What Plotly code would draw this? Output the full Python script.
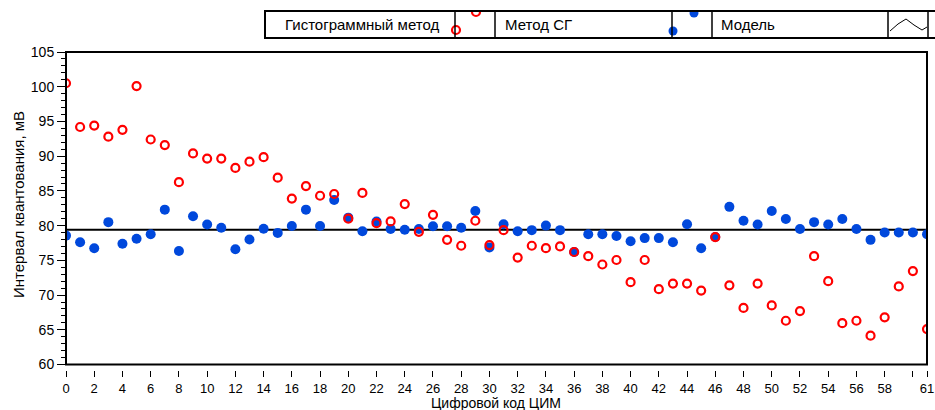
import plotly.graph_objects as go

# ---- data ----
codes = list(range(62))
hist_method = [100.5, 94.2, 94.4, 92.8, 93.8, 100.1, 92.4, 91.6, 86.25, 90.4,
               89.65, 89.65, 88.3, 89.2, 89.85, 86.9, 83.9, 85.7, 84.3, 84.55,
               81.0, 84.7, 80.35, 80.6, 83.1, 79.1, 81.55, 77.95, 77.1, 80.7,
               77.2, 79.35, 75.4, 77.1, 76.75, 77.0, 76.2, 75.6, 74.4, 75.05,
               71.85, 75.05, 70.85, 71.65, 71.65, 70.65, 78.35, 71.4, 68.15, 71.65,
               68.5, 66.3, 67.7, 75.6, 72.0, 65.95, 66.3, 64.15, 66.8, 71.25,
               73.45, 65.1]
sg_method = [78.56, 77.6, 76.75, 80.5, 77.4, 78.1, 78.75, 82.3, 76.35, 81.35,
             80.15, 79.7, 76.6, 78.0, 79.55, 78.95, 79.95, 82.3, 79.95, 83.7,
             81.15, 79.2, 80.6, 79.5, 79.4, 79.5, 79.9, 79.9, 79.7, 82.1,
             76.85, 80.2, 79.2, 79.35, 80.0, 79.35, 76.2, 78.75, 78.75, 78.5,
             77.75, 78.2, 78.2, 77.6, 80.2, 76.75, 78.35, 82.7, 80.7, 80.15,
             82.1, 80.95, 79.5, 80.5, 80.15, 80.95, 79.5, 77.95, 79.0, 79.0,
             79.0, 78.75]
model_x = [0, 61]
model_y = [79.4, 79.4]
x_tickvals = list(range(0, 61, 2)) + [61]
x_ticktext = [str(v) if v != 60 else "" for v in x_tickvals]
legend_names = ["Гистограммный метод", "Метод СГ", "Модель"]
x_title = "Цифровой код ЦИМ"
y_title = "Интервал квантования, мВ"

RED = "#FF0000"
BLUE = "#0048DC"
FONT = "Liberation Sans"

# ---- layout geometry (page pixels) ----
W, H = 935, 410
P_LEFT, P_RIGHT, P_TOP, P_BOT = 66, 927, 52, 370   # plot area in pixels
ML = P_LEFT
MR = W - P_RIGHT
MT = P_TOP
MB = H - P_BOT
PW = W - ML - MR
PH = H - MT - MB


def px(x):
    return (x - P_LEFT) / PW


def py(y):
    return (P_BOT - y) / PH


fig = go.Figure()
fig.add_trace(go.Scatter(x=model_x, y=model_y, mode="lines",
                         line=dict(color="black", width=2),
                         name=legend_names[2], showlegend=False))
fig.add_trace(go.Scatter(x=codes, y=sg_method, mode="markers",
                         marker=dict(symbol="circle", size=10, color=BLUE,
                                     line=dict(width=0)),
                         name=legend_names[1], showlegend=False))
fig.add_trace(go.Scatter(x=codes, y=hist_method, mode="markers",
                         marker=dict(symbol="circle-open", size=8, color=RED,
                                     line=dict(width=2.2, color=RED)),
                         name=legend_names[0], showlegend=False))

shapes = []
# plot frame
shapes.append(dict(type="rect", xref="x domain", yref="y domain",
                   x0=0, x1=1, y0=0, y1=1,
                   line=dict(color="black", width=2), layer="above"))

# legend box
lt, lb = 11, 38
cells = [265, 455, 495, 672, 712, 888, 928]
shapes.append(dict(type="rect", xref="paper", yref="paper",
                   x0=px(265), x1=px(945), y0=py(lb), y1=py(lt),
                   fillcolor="white", line=dict(color="black", width=2)))


def circ(cx, cy, r, fill, color, w):
    return dict(type="circle", xref="paper", yref="paper",
                xsizemode="pixel", ysizemode="pixel",
                xanchor=px(cx), yanchor=py(cy),
                x0=-r, x1=r, y0=-r, y1=r,
                fillcolor=fill, line=dict(color=color, width=w))


# legend icons (partly hidden by the cell borders, as in the original)
shapes.append(circ(476, 12, 4, "rgba(0,0,0,0)", RED, 2.2))
shapes.append(circ(456, 30, 4, "rgba(0,0,0,0)", RED, 2.2))
shapes.append(circ(694, 13, 4.5, BLUE, BLUE, 0))
shapes.append(circ(673, 31, 4.5, BLUE, BLUE, 0))
zig_x = [890, 898, 906, 914, 922, 927]
zig_y = [31, 24, 19, 25, 30, 27]
path = "M " + " L ".join(f"{px(a)},{py(b)}" for a, b in zip(zig_x, zig_y))
shapes.append(dict(type="path", xref="paper", yref="paper", path=path,
                   line=dict(color="black", width=1)))
# mask above the legend box and redraw the borders over the icons
shapes.append(dict(type="rect", xref="paper", yref="paper",
                   x0=px(262), x1=px(945), y0=py(10), y1=py(0),
                   fillcolor="white", line=dict(width=0)))
shapes.append(dict(type="rect", xref="paper", yref="paper",
                   x0=px(265), x1=px(945), y0=py(lb), y1=py(lt),
                   fillcolor="rgba(0,0,0,0)", line=dict(color="black", width=2)))
for c in cells[1:]:
    shapes.append(dict(type="line", xref="paper", yref="paper",
                       x0=px(c), x1=px(c), y0=py(lb), y1=py(lt),
                       line=dict(color="black", width=1.5)))

LF = 15
annotations = [
    dict(x=px(362), y=py(24.5), xref="paper", yref="paper",
         text=legend_names[0], showarrow=False, xanchor="center",
         yanchor="middle", font=dict(family=FONT, size=LF, color="black")),
    dict(x=px(503), y=py(24.5), xref="paper", yref="paper",
         text=legend_names[1], showarrow=False, xanchor="left",
         yanchor="middle", font=dict(family=FONT, size=LF, color="black")),
    dict(x=px(719), y=py(24.5), xref="paper", yref="paper",
         text=legend_names[2], showarrow=False, xanchor="left",
         yanchor="middle", font=dict(family=FONT, size=LF, color="black")),
    dict(x=px(496), y=py(402.5), xref="paper", yref="paper",
         text=x_title, showarrow=False, xanchor="center",
         yanchor="middle", font=dict(family=FONT, size=14, color="black")),
    dict(x=px(18), y=py(205), xref="paper", yref="paper",
         text=y_title, showarrow=False, xanchor="center", textangle=-90,
         yanchor="middle", font=dict(family=FONT, size=LF, color="black")),
]

fig.update_layout(
    width=W, height=H,
    margin=dict(l=ML, r=MR, t=MT, b=MB, pad=0, autoexpand=False),
    paper_bgcolor="white", plot_bgcolor="white",
    font=dict(family=FONT, size=14, color="black"),
    showlegend=False,
    shapes=shapes,
    annotations=annotations,
    xaxis=dict(range=[0, 61], anchor="free", position=0, automargin=False,
               tickvals=x_tickvals, ticktext=x_ticktext,
               ticks="outside", ticklen=6, tickwidth=1, tickcolor="black",
               showgrid=False, zeroline=False, showline=False,
               tickfont=dict(family=FONT, size=13)),
    yaxis=dict(range=[60, 105], domain=[5.5 / PH, 1], automargin=False,
               tickvals=list(range(60, 106, 5)),
               ticks="outside", ticklen=8, tickwidth=1, tickcolor="black",
               minor=dict(dtick=1, ticks="outside", ticklen=4,
                          tickwidth=1, tickcolor="black", showgrid=False),
               showgrid=False, zeroline=False, showline=False,
               tickfont=dict(family=FONT, size=14)),
)

fig.write_html(
    "out.html",
    config={"displayModeBar": False},
    post_script="document.body.style.margin='0';"
                "document.body.style.overflow='hidden';",
)
